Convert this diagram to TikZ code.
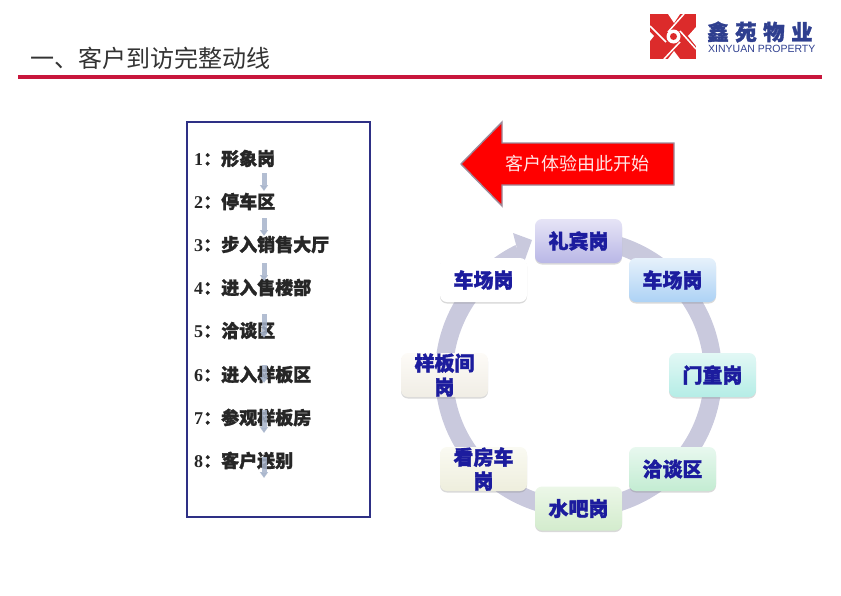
\documentclass[tikz,border=0pt]{standalone}
\usepackage{fontspec}
\setmainfont{Liberation Serif}
\newfontfamily\cjk[BoldFeatures = {FakeBold = 1.6}]{Noto Sans CJK SC}
\newfontfamily\logolatin{Liberation Sans}
\usetikzlibrary{arrows.meta}
\usetikzlibrary{shadows}
\definecolor{ringgray}{HTML}{C9C9DD}
\definecolor{stationblue}{HTML}{1C1C9E}
\definecolor{listnavy}{HTML}{2E3085}
\definecolor{barred}{HTML}{C8163C}
\definecolor{logored}{HTML}{DC2B2B}
\definecolor{logoblue}{HTML}{2F3F8F}
\definecolor{flowgray}{HTML}{A6B3CA}
\definecolor{arrowedge}{HTML}{9A8A9A}
\tikzset{station/.style = {shape = rectangle, rounded corners = 7pt, minimum width = 87pt, minimum height = 44pt, inner sep = 0pt, align = center, text = stationblue, font = \cjk\bfseries\fontsize{20}{24}\selectfont, drop shadow = {opacity = 0.3, shadow xshift = 0pt, shadow yshift = -1.5pt}}}
\tikzset{listitem/.style = {anchor = west, inner sep = 0pt, text = black!85, font = \bfseries\fontsize{18}{22}\selectfont}}
\tikzset{flowarrow/.style = {-{Triangle[width = 8pt, length = 6pt]}, line width = 5pt, draw = flowgray, opacity = 0.85}}

\begin{document}
\begin{tikzpicture}[x = 1pt, y = -1pt]
	\useasboundingbox (0, 0) rectangle (841, 595);

	% header
	\node[anchor = west, inner sep = 0pt, text = black!80, font = \cjk\fontsize{24}{28}\selectfont] (title) at (30, 58) {一、客户到访完整动线};
	\coordinate (barleft) at (18, 77);
	\coordinate (barright) at (822, 77);
	\draw[barred, line width = 4pt] (barleft) -- (barright);

	% logo
	\fill[logored] (650, 14) rectangle (696, 59);
	\fill[white] (668, 14) -- (680, 14) -- (674, 23) -- cycle;
	\fill[white] (668, 59) -- (680, 59) -- (674, 51) -- cycle;
	\fill[white] (696, 27) -- (696, 46) -- (688, 36) -- cycle;
	\fill[white] (650, 32) -- (650, 41) -- (654, 36) -- cycle;
	\draw[white, line width = 1.5pt] (684, 14) -- (668, 32);
	\draw[white, line width = 1.5pt] (680, 42) -- (664, 59);
	\draw[white, line width = 1.5pt] (650, 26) -- (666, 42);
	\draw[white, line width = 1.5pt] (680, 31) -- (696, 49);
	\fill[white] (673.5, 36.5) circle[radius = 7pt];
	\fill[logored] (673.5, 36.5) circle[radius = 3.5pt];
	\node[anchor = west, inner sep = 0pt, text = logoblue, font = \cjk\bfseries\fontsize{21.5}{24}\selectfont] (logoname) at (707, 32) {鑫\hspace{6.5pt}苑\hspace{6.5pt}物\hspace{6.5pt}业};
	\node[anchor = west, inner sep = 0pt, text = logoblue, font = \logolatin\fontsize{10.5}{12}\selectfont] (logolatin) at (708, 49) {XINYUAN PROPERTY};

	% list on the left
	\node[draw = listnavy, line width = 1.6pt, minimum width = 183pt, minimum height = 395pt, inner sep = 0pt] (listbox) at (278.5, 319.5) {};
	\node[listitem] (item1) at (194, 158.5) {1\cjk：形象岗};
	\node[listitem] (item2) at (194, 201.5) {2\cjk：停车区};
	\node[listitem] (item3) at (194, 244.5) {3\cjk：步入销售大厅};
	\node[listitem] (item4) at (194, 287.5) {4\cjk：进入售楼部};
	\node[listitem] (item5) at (194, 330.5) {5\cjk：洽谈区};
	\node[listitem] (item6) at (194, 374.5) {6\cjk：进入样板区};
	\node[listitem] (item7) at (194, 417.5) {7\cjk：参观样板房};
	\node[listitem] (item8) at (194, 460.5) {8\cjk：客户送别};

	\coordinate (from1) at (264, 173);
	\coordinate (to1) at (264, 191);
	\coordinate (from2) at (264, 218);
	\coordinate (to2) at (264, 236);
	\coordinate (from3) at (264, 263);
	\coordinate (to3) at (264, 281);
	\coordinate (from4) at (264, 314);
	\coordinate (to4) at (264, 338);
	\coordinate (from5) at (264, 365);
	\coordinate (to5) at (264, 383);
	\coordinate (from6) at (264, 410);
	\coordinate (to6) at (264, 433);
	\coordinate (from7) at (264, 457);
	\coordinate (to7) at (264, 478);
	\draw[flowarrow] (from1) -- (to1);
	\draw[flowarrow] (from2) -- (to2);
	\draw[flowarrow] (from3) -- (to3);
	\draw[flowarrow] (from4) -- (to4);
	\draw[flowarrow] (from5) -- (to5);
	\draw[flowarrow] (from6) -- (to6);
	\draw[flowarrow] (from7) -- (to7);

	% start arrow
	\draw[fill = red, draw = arrowedge, line width = 1.4pt] (461, 164) -- (502, 122) -- (502, 143) -- (674, 143) -- (674, 185) -- (502, 185) -- (502, 206) -- cycle;
	\node[inner sep = 0pt, text = white!90!red, font = \cjk\fontsize{18}{22}\selectfont] (start) at (577.5, 164) {客户体验由此开始};

	% ring
	\coordinate (ringcenter) at (578.5, 374);
	\draw[ringgray, line width = 18pt] (ringcenter) ++(100:134.5pt) arc[start angle = 100, delta angle = -344, radius = 134.5pt];
	\fill[ringgray] (513, 233) -- (532, 240) -- (522, 268) -- cycle;

	% stations on the ring
	\node[station, top color = white, bottom color = white] (parkleft) at (483.5, 280) {车场岗};
	\node[station, top color = {rgb,255:red,253;green,251;blue,247}, bottom color = {rgb,255:red,240;green,237;blue,229}] (sample) at (444.5, 375) {样板间\\岗};
	\node[station, top color = {rgb,255:red,250;green,250;blue,242}, bottom color = {rgb,255:red,238;green,238;blue,221}] (viewcar) at (483.5, 469) {看房车\\岗};
	\node[station, top color = {rgb,255:red,236;green,247;blue,232}, bottom color = {rgb,255:red,211;green,236;blue,205}] (water) at (578.5, 508.5) {水吧岗};
	\node[station, top color = {rgb,255:red,232;green,248;blue,239}, bottom color = {rgb,255:red,195;green,236;blue,210}] (talk) at (672.5, 469) {洽谈区};
	\node[station, top color = {rgb,255:red,226;green,248;blue,245}, bottom color = {rgb,255:red,181;green,237;blue,230}] (door) at (712.5, 375) {门童岗};
	\node[station, top color = {rgb,255:red,230;green,241;blue,251}, bottom color = {rgb,255:red,173;green,210;blue,245}] (parkright) at (672.5, 280) {车场岗};
	\node[station, top color = {rgb,255:red,230;green,228;blue,246}, bottom color = {rgb,255:red,185;green,183;blue,230}] (guest) at (578.5, 241) {礼宾岗};
\end{tikzpicture}
\end{document}
